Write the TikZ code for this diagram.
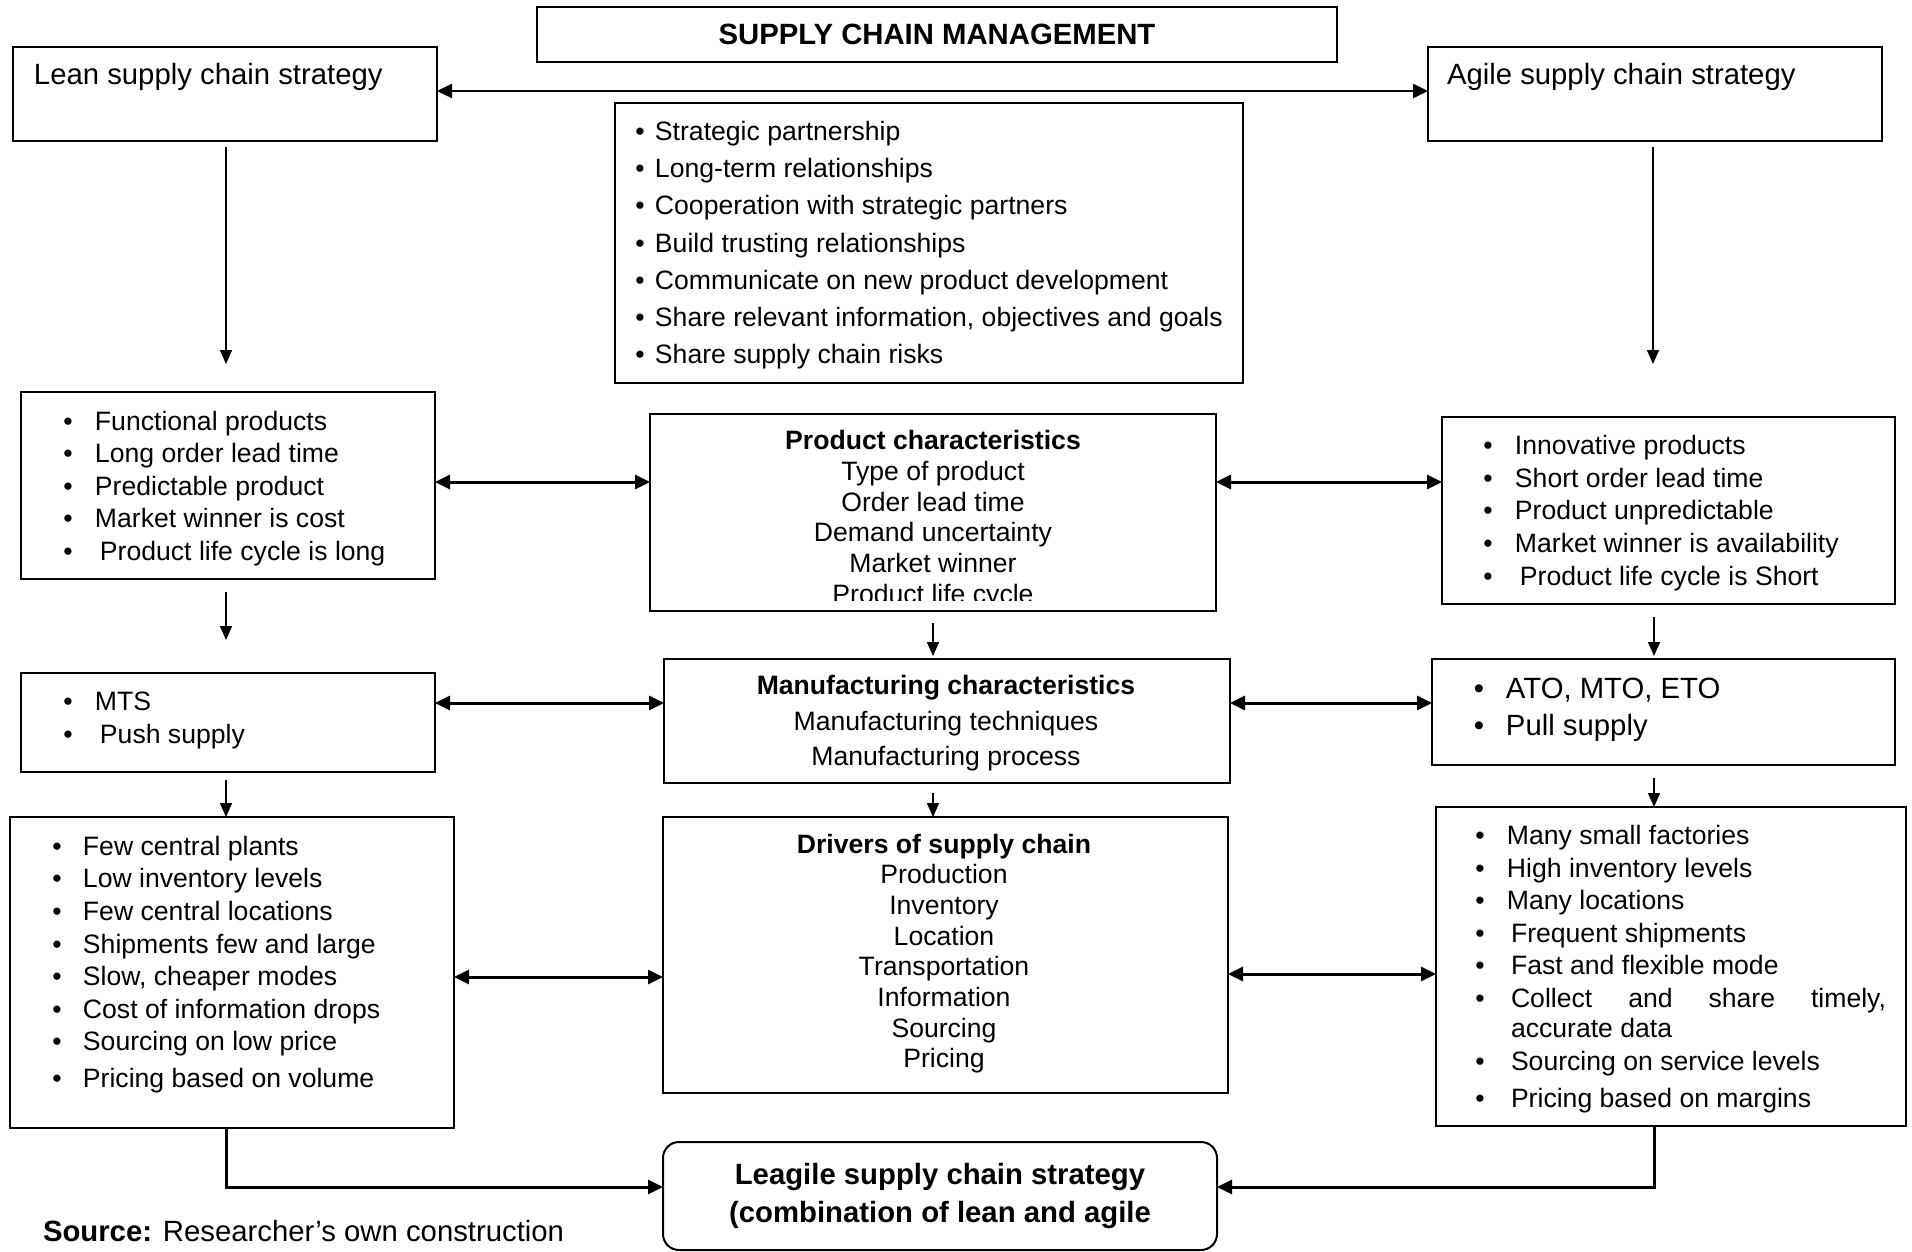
\documentclass[tikz,border=0pt]{standalone}
\usepackage{fontspec}
\setmainfont{Liberation Sans}
\usetikzlibrary{arrows.meta,fit,calc}

% bullet followed by a fixed gap up to the item text
\newcommand\bul[1]{\makebox[#1][l]{•}}

\begin{document}
\begin{tikzpicture}[x=1pt,y=-1pt,
  box/.style={draw, line width=2pt, inner sep=0pt, outer sep=0pt},
  rtxt/.style={inner sep=0pt, outer sep=0pt, anchor=base west, font=\fontsize{26.6}{32}\selectfont},
  ltxt/.style={inner sep=0pt, outer sep=0pt, anchor=base west, font=\fontsize{29.3}{35}\selectfont},
  ctxt/.style={inner sep=0pt, outer sep=0pt, anchor=base, font=\fontsize{26.6}{32}\selectfont},
  hdr/.style={ctxt, font=\fontsize{26.6}{32}\selectfont\bfseries},
  twoway/.style={line width=3pt, {Triangle[length=15pt,width=14pt]}-{Triangle[length=15pt,width=14pt]}},
  oneway/.style={line width=1.5pt, -{Triangle[length=14pt,width=12pt]}},
  merge/.style={line width=3pt, -{Triangle[length=15pt,width=14pt]}},
]
\useasboundingbox (0,0) rectangle (1912,1252);

% ---------- boxes ----------
\node[box, fit={(537,7) (1337,62)}] (title) {};
\node[box, fit={(13,47) (437,141)}] (lean) {};
\node[box, fit={(1428,47) (1882,141)}] (agile) {};
\node[box, fit={(615,103) (1243,383)}] (partner) {};
\node[box, fit={(21,392) (435,579)}] (leanB) {};
\node[box, fit={(650,414) (1216,611)}] (prod) {};
\node[box, fit={(1442,417) (1895,604)}] (agileB) {};
\node[box, fit={(21,673) (435,772)}] (mts) {};
\node[box, fit={(664,659) (1230,783)}] (manuf) {};
\node[box, fit={(1432,659) (1895,765)}] (ato) {};
\node[box, fit={(10,817) (454,1128)}] (leanC) {};
\node[box, fit={(663,817) (1228,1093)}] (drivers) {};
\node[box, fit={(1436,807) (1906,1126)}] (agileC) {};
\node[box, rounded corners=16pt, fit={(663,1142) (1217,1250)}] (leagile) {};

% ---------- texts ----------
\node[ctxt, font=\fontsize{29.3}{35}\selectfont\bfseries] (titleT) at ($(title.center)+(0,10.5)$) {SUPPLY CHAIN MANAGEMENT};
\node[ltxt] (leanT) at (34,85) {Lean supply chain strategy};
\node[ltxt] (agileT) at (1447,85) {Agile supply chain strategy};

\foreach \t [count=\i] in {Strategic partnership, Long-term relationships,
    Cooperation with strategic partners, Build trusting relationships,
    Communicate on new product development,
    {Share relevant information, objectives and goals}, Share supply chain risks}
  \node[rtxt] (pt\i) at (635.4,{141+37*(\i-1)}) {\bul{19.6pt}\t};

\foreach \t/\w [count=\i] in {Functional products/31.6, Long order lead time/31.6,
    Predictable product/31.6, Market winner is cost/31.6, Product life cycle is long/36.6}
  \node[rtxt] (lb\i) at (63.4,{430+32.6*(\i-1)}) {\bul{\w pt}\t};

\node[hdr] (prodH) at (933,449.7) {Product characteristics};
\foreach \t [count=\i] in {Type of product, Order lead time, Demand uncertainty, Market winner}
  \node[ctxt] (pc\i) at (933,{449.7+30.7*\i}) {\t};
\begin{scope}
  \clip (prod.north west) rectangle ($(prod.south east)+(0,-11)$);
  \node[ctxt] (pc5) at (933,603.2) {Product life cycle};
\end{scope}

\foreach \t/\w [count=\i] in {Innovative products/31.6, Short order lead time/31.6,
    Product unpredictable/31.6, Market winner is availability/31.6, Product life cycle is Short/36.6}
  \node[rtxt] (ab\i) at (1483.4,{454.6+32.6*(\i-1)}) {\bul{\w pt}\t};

\node[rtxt] (mt1) at (63.4,710.7) {\bul{31.6pt}MTS};
\node[rtxt] (mt2) at (63.4,743.6) {\bul{36.6pt}Push supply};

\node[hdr] (manH) at (946,694.8) {Manufacturing characteristics};
\node[ctxt] (man1) at (946,730.2) {Manufacturing techniques};
\node[ctxt] (man2) at (946,765.5) {Manufacturing process};

\node[ltxt] (at1) at (1473.9,698.5) {\bul{32.1pt}ATO, MTO, ETO};
\node[ltxt] (at2) at (1473.9,735) {\bul{32.1pt}Pull supply};

\foreach \t/\y [count=\i] in {Few central plants/855.8, Low inventory levels/887.5,
    Few central locations/920.4, Shipments few and large/953.3, {Slow, cheaper modes}/985,
    Cost of information drops/1018, Sourcing on low price/1050.9, Pricing based on volume/1087.5}
  \node[rtxt] (lc\i) at (52.4,\y) {\bul{30.6pt}\t};

\node[hdr] (drvH) at (944,853.3) {Drivers of supply chain};
\foreach \t [count=\i] in {Production, Inventory, Location, Transportation, Information, Sourcing, Pricing}
  \node[ctxt] (dr\i) at (944,{853.3+30.66*\i}) {\t};

\foreach \t/\w/\y [count=\i] in {Many small factories/31.6/844.8, High inventory levels/31.6/877.7,
    Many locations/31.6/909.4, Frequent shipments/35.6/942.3, Fast and flexible mode/35.6/974}
  \node[rtxt] (ac\i) at (1475.4,\y) {\bul{\w pt}\t};
\node[rtxt] (ac6) at (1475.4,1007) {\bul{35.6pt}\makebox[375pt][l]{Collect\hfill and\hfill share\hfill timely,}};
\node[rtxt] (ac7) at (1511,1037.5) {accurate data};
\node[rtxt] (ac8) at (1475.4,1070.4) {\bul{35.6pt}Sourcing on service levels};
\node[rtxt] (ac9) at (1475.4,1107) {\bul{35.6pt}Pricing based on margins};

\node[ctxt, font=\fontsize{29.3}{35}\selectfont\bfseries] (lg1) at (940,1184) {Leagile supply chain strategy};
\node[ctxt, font=\fontsize{29.3}{35}\selectfont\bfseries] (lg2) at (940,1222) {(combination of lean and agile};

\node[ltxt] (src) at (43,1241) {\textbf{Source:} Researcher’s own construction};

% ---------- connectors ----------
\draw[twoway, line width=2.5pt] ($(lean.north east)+(0,44)$) -- ($(agile.north west)+(0,44)$);
\draw[oneway] ($(lean.south)+(1,6)$) -- ($(lean.south |- leanB.north)+(1,-28)$);
\draw[oneway] ($(agile.south)+(-2,6)$) -- ($(agile.south |- agileB.north)+(-2,-53)$);

\draw[twoway] ($(leanB.north east)+(0,90)$) -- ($(leanB.north east -| prod.west)+(0,90)$);
\draw[twoway] ($(prod.north east)+(0,68)$) -- ($(prod.north east -| agileB.west)+(0,68)$);

\draw[oneway] ($(leanB.south -| lean.south)+(1,13)$) -- ($(lean.south |- mts.north)+(1,-33)$);
\draw[oneway] ($(prod.south)+(0,12)$) -- ($(prod.south |- manuf.north)+(0,-3)$);
\draw[oneway] ($(agileB.south -| agile.south)+(-1,13)$) -- ($(agile.south |- ato.north)+(-1,-3)$);

\draw[twoway] ($(mts.north east)+(0,30)$) -- ($(mts.north east -| manuf.west)+(0,30)$);
\draw[twoway] ($(manuf.north east)+(0,44)$) -- ($(manuf.north east -| ato.west)+(0,44)$);

\draw[oneway] ($(mts.south -| lean.south)+(1,8)$) -- ($(lean.south |- leanC.north)+(1,0)$);
\draw[oneway] ($(manuf.south -| prod.south)+(0,10)$) -- (prod.south |- drivers.north);
\draw[oneway] ($(ato.south -| agile.south)+(-1,13)$) -- ($(agile.south |- agileC.north)+(-1,0)$);

\draw[twoway] ($(leanC.north east)+(0,160)$) -- ($(leanC.north east -| drivers.west)+(0,160)$);
\draw[twoway] ($(drivers.north east)+(0,157)$) -- ($(drivers.north east -| agileC.west)+(0,157)$);

\draw[merge] ($(leanC.south -| lean.south)+(1,0)$) |- ($(leagile.north west)+(0,45)$);
\draw[merge] ($(agileC.south -| agile.south)+(-1,0)$) |- ($(leagile.north east)+(0,45)$);
\end{tikzpicture}
\end{document}
